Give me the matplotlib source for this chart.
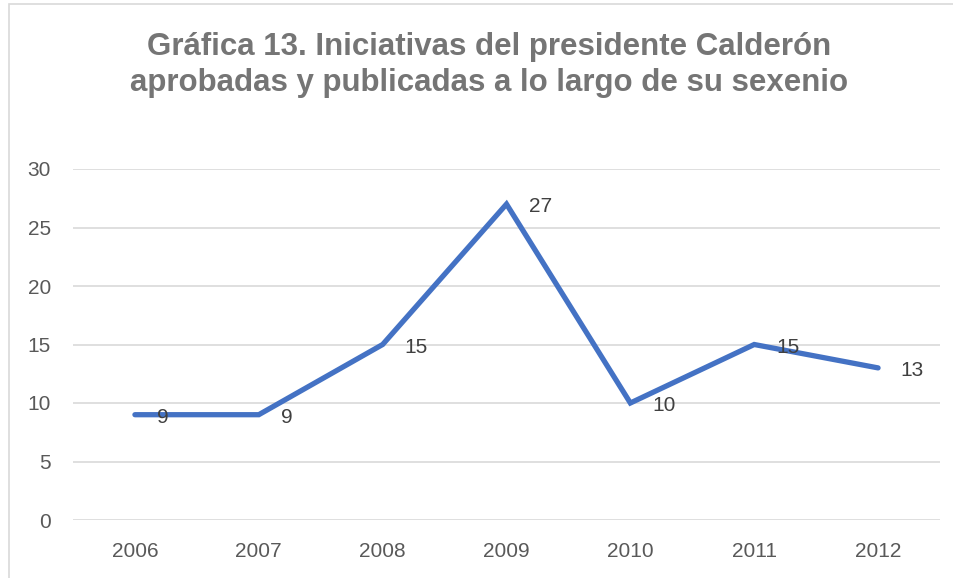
import matplotlib.pyplot as plt
from matplotlib.patches import Rectangle

years = ["2006", "2007", "2008", "2009", "2010", "2011", "2012"]
iniciativas = [9, 9, 15, 27, 10, 15, 13]
y_ticks = [0, 5, 10, 15, 20, 25, 30]
title = "Gráfica 13. Iniciativas del presidente Calderón\naprobadas y publicadas a lo largo de su sexenio"

plt.rcParams['font.family'] = ['Liberation Sans', 'DejaVu Sans']

fig = plt.figure(figsize=(9.54, 5.78), dpi=100)
ax = fig.add_axes([73 / 954, 58 / 578, (940 - 73) / 954, (409 - 58) / 578])

# chart area border like the office export
fig.patches.append(Rectangle((9 / 954, -0.1), 1.2, 1.1 - 4 / 578, transform=fig.transFigure,
                             fill=False, edgecolor='#D9D9D9', linewidth=1.2))

x = list(range(len(years)))
ax.plot(x, iniciativas, color='#4472C4', linewidth=3.8, solid_capstyle='round',
        solid_joinstyle='miter', zorder=3)

for xi, v in zip(x, iniciativas):
    ax.annotate(str(v), (xi, v), xytext=(16, -2), textcoords='offset points',
                ha='left', va='center', fontsize=15, color='#404040', zorder=4)

ax.set_xlim(-0.5, len(years) - 0.5)
ax.set_ylim(0, 30)
ax.set_yticks(y_ticks)
ax.set_xticks(x)
ax.set_xticklabels(years)
ax.grid(axis='y', color='#D9D9D9', linewidth=1.2)
ax.set_axisbelow(True)
for s in ax.spines.values():
    s.set_visible(False)
ax.tick_params(axis='both', length=0, labelsize=15, labelcolor='#595959')
ax.tick_params(axis='y', pad=16)
ax.tick_params(axis='x', pad=16)

fig.text(489 / 954, 1 - 65 / 578, title, ha='center', va='center', fontsize=22.5,
         fontweight='bold', color='#757575', linespacing=1.3)

fig.savefig('out.png', dpi=100)
